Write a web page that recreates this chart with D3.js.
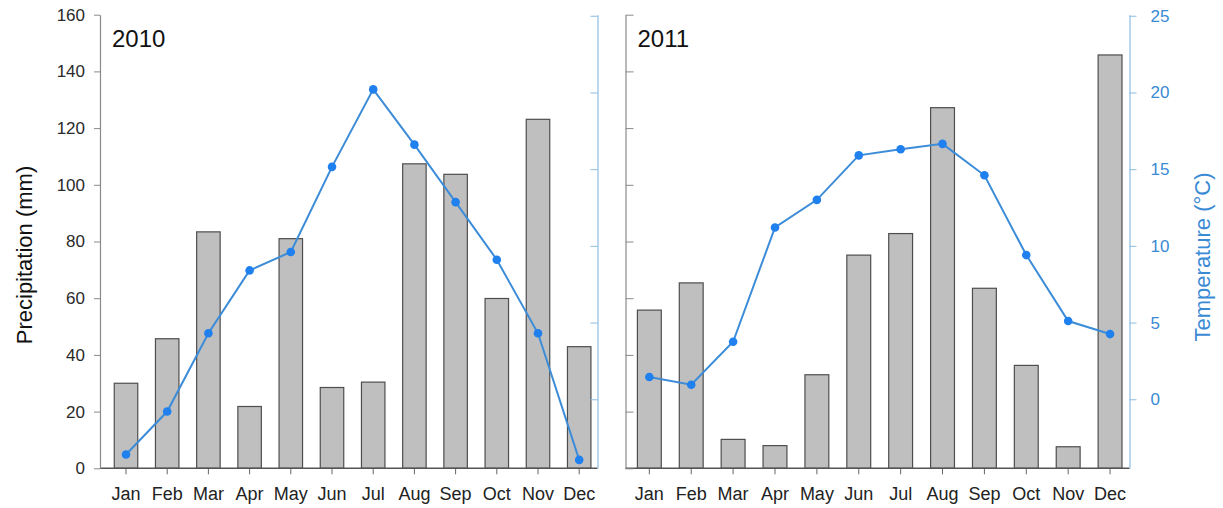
<!DOCTYPE html>
<html>
<head>
<meta charset="utf-8">
<script src="https://cdn.jsdelivr.net/npm/d3@7"></script>
<style>
  html, body { margin: 0; padding: 0; background: #fff; }
  svg { display: block; font-family: "Liberation Sans", Arial, Helvetica, sans-serif; }
</style>
</head>
<body>
<svg id="chart" width="1223" height="508"></svg>
<script>
// Monthly climate data: precipitation (bars) and mean temperature (line)
const months = ["Jan", "Feb", "Mar", "Apr", "May", "Jun", "Jul", "Aug", "Sep", "Oct", "Nov", "Dec"];
const precip2010 = [30.0, 45.7, 83.4, 21.8, 81.0, 28.5, 30.4, 107.4, 103.7, 59.9, 123.1, 42.9];
const temp2010 = [-3.6, -0.8, 4.3, 8.4, 9.6, 15.15, 20.2, 16.6, 12.85, 9.1, 4.3, -3.95];
const precip2011 = [55.8, 65.4, 10.2, 8.0, 33.0, 75.2, 82.8, 127.2, 63.5, 36.3, 7.6, 145.8];
const temp2011 = [1.45, 0.95, 3.75, 11.2, 13.0, 15.9, 16.3, 16.65, 14.6, 9.4, 5.1, 4.25];
const precipTicks = [0, 20, 40, 60, 80, 100, 120, 140, 160];
const tempTicks = [0, 5, 10, 15, 20, 25];
const years = ["2010", "2011"];

const svg = d3.select("#chart");
const plotTop = 14.7, plotBottom = 468.3;

const yP = d3.scaleLinear().domain([0, 160]).range([plotBottom, plotTop]);
const yT = d3.scaleLinear().domain([-4.5, 25.07]).range([plotBottom, plotTop]);

const GREY_AXIS = "#8a8a8a";
const BLUE_AXIS = "#8bbde3";
const BLUE_LINE = "#3c8cd8";
const BLUE_DOT = "#1f80ee";
const BLUE_TEXT = "#3a8ad4";

const panels = [
  { year: years[0], precip: precip2010, temp: temp2010, x0: 100, x1: 597.5, band: [105.4, 599.8], first: true },
  { year: years[1], precip: precip2011, temp: temp2011, x0: 625.5, x1: 1129.5, band: [628.4, 1131], first: false }
];

function styleAxis(g, color, textColor, fontSize) {
  g.selectAll(".tick line").attr("stroke", color).attr("stroke-width", 1);
  g.selectAll(".domain").attr("stroke", color).attr("stroke-width", 1.2);
  g.selectAll(".tick text").attr("fill", textColor).attr("font-size", fontSize)
    .attr("font-family", "Liberation Sans, Arial, sans-serif");
}

panels.forEach(p => {
  const x = d3.scaleBand().domain(months).range(p.band)
    .paddingInner(0.43).paddingOuter(0.215);
  const g = svg.append("g");

  // Bars: precipitation
  g.selectAll("rect.bar").data(p.precip).join("rect")
    .attr("class", "bar")
    .attr("x", (d, i) => x(months[i]))
    .attr("width", x.bandwidth())
    .attr("y", d => yP(d))
    .attr("height", d => yP(0) - yP(d))
    .attr("fill", "#bfbfbf")
    .attr("stroke", "#4e4e4e")
    .attr("stroke-width", 1.2);

  // Bottom axis with month labels
  const xAxis = g.append("g").attr("transform", `translate(0,${plotBottom})`)
    .call(d3.axisBottom(x).tickSize(6).tickPadding(13).tickSizeOuter(0));
  xAxis.select(".domain").remove();
  styleAxis(xAxis, "#666", "#222", "18px");
  g.append("line")
    .attr("x1", p.x0).attr("x2", p.x1)
    .attr("y1", plotBottom).attr("y2", plotBottom)
    .attr("stroke", "#555").attr("stroke-width", 1.4);

  // Left precipitation axis
  let lAx;
  if (p.first) {
    lAx = g.append("g").attr("transform", `translate(${p.x0},0)`)
      .call(d3.axisLeft(yP).tickValues(precipTicks).tickSize(6).tickPadding(9).tickSizeOuter(0));
  } else {
    lAx = g.append("g").attr("transform", `translate(${p.x0},0)`)
      .call(d3.axisRight(yP).tickValues(precipTicks).tickSize(8).tickFormat("").tickSizeOuter(0));
  }
  styleAxis(lAx, GREY_AXIS, "#2a2a2a", "17px");

  // Right temperature axis
  let rAx;
  if (p.first) {
    rAx = g.append("g").attr("transform", `translate(${p.x1},0)`)
      .call(d3.axisLeft(yT).tickValues(tempTicks).tickSize(7).tickFormat("").tickSizeOuter(0));
  } else {
    rAx = g.append("g").attr("transform", `translate(${p.x1},0)`)
      .call(d3.axisRight(yT).tickValues(tempTicks).tickSize(7).tickPadding(14).tickSizeOuter(0));
  }
  styleAxis(rAx, BLUE_AXIS, BLUE_TEXT, "17px");

  // Temperature line
  const line = d3.line()
    .x((d, i) => x(months[i]) + x.bandwidth() / 2)
    .y(d => yT(d));
  g.append("path").datum(p.temp)
    .attr("d", line)
    .attr("fill", "none")
    .attr("stroke", BLUE_LINE)
    .attr("stroke-width", 2);
  g.selectAll("circle.pt").data(p.temp).join("circle")
    .attr("class", "pt")
    .attr("cx", (d, i) => x(months[i]) + x.bandwidth() / 2)
    .attr("cy", d => yT(d))
    .attr("r", 4.3)
    .attr("fill", BLUE_DOT);

  // Year label
  g.append("text")
    .attr("x", p.x0 + 12)
    .attr("y", 47)
    .attr("font-size", "24px")
    .attr("fill", "#111")
    .text(p.year);
});

// Axis titles
svg.append("text")
  .attr("transform", "translate(32,255) rotate(-90)")
  .attr("text-anchor", "middle")
  .attr("font-size", "22px")
  .attr("fill", "#111")
  .text("Precipitation (mm)");

svg.append("text")
  .attr("transform", "translate(1210,257) rotate(-90)")
  .attr("text-anchor", "middle")
  .attr("font-size", "22px")
  .attr("fill", BLUE_TEXT)
  .text("Temperature (°C)");
</script>
</body>
</html>
